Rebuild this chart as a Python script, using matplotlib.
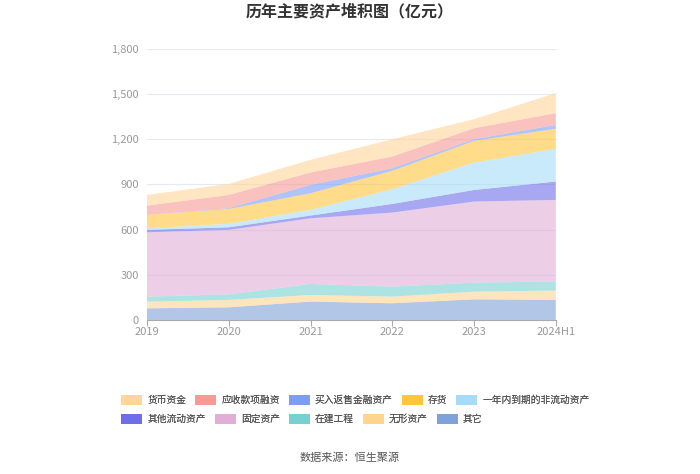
import numpy as np
import matplotlib
matplotlib.use("Agg")
import matplotlib.pyplot as plt
from matplotlib.patches import Patch

plt.rcParams['font.family'] = ['Noto Sans CJK SC', 'DejaVu Sans']

years = ['2019', '2020', '2021', '2022', '2023', '2024H1']

# stacked bottom -> top
qita = [77, 84, 122, 111, 137, 133]          # 其它
wuxing = [45, 49, 44, 44, 51, 62]            # 无形资产
zaijian = [33, 37, 73, 66, 60, 60]           # 在建工程
guding = [427, 428, 436, 492, 538, 542]      # 固定资产
qitaliudong = [16, 17, 18, 57, 77, 122]      # 其他流动资产
yinian = [11, 23, 38, 98, 182, 217]          # 一年内到期的非流动资产
cunhuo = [88, 99, 110, 122, 144, 133]        # 存货
maifan = [0, 5, 56, 17, 11, 26]              # 买入返售金融资产
yingshou = [62, 88, 82, 78, 73, 78]          # 应收款项融资
huobi = [71, 73, 84, 115, 60, 133]           # 货币资金

series = [
    ('其它', qita, '#7fa3d9'),
    ('无形资产', wuxing, '#ffd48f'),
    ('在建工程', zaijian, '#77d1d1'),
    ('固定资产', guding, '#e1aed8'),
    ('其他流动资产', qitaliudong, '#6e6eea'),
    ('一年内到期的非流动资产', yinian, '#a6dcf8'),
    ('存货', cunhuo, '#ffc53d'),
    ('买入返售金融资产', maifan, '#7d9df5'),
    ('应收款项融资', yingshou, '#f79a94'),
    ('货币资金', huobi, '#ffd59a'),
]

fig = plt.figure(figsize=(7, 4.74), dpi=100)
ax = fig.add_axes([0.21, 0.325, 0.584, 0.572])

x = np.arange(len(years))
ax.stackplot(x, *[s[1] for s in series], colors=[s[2] for s in series],
             alpha=0.6, linewidth=0)

ax.set_xlim(0, len(years) - 1)
ax.set_ylim(0, 1800)
ax.set_yticks(range(0, 1801, 300))
ax.set_yticklabels([f'{v:,}' for v in range(0, 1801, 300)])
ax.set_xticks(x)
ax.set_xticklabels(years)
ax.grid(axis='y', color='#e6e9f0', linewidth=0.8)
ax.set_axisbelow(True)
for s in ['top', 'right', 'left']:
    ax.spines[s].set_visible(False)
ax.spines['bottom'].set_color('#aaaaaa')
ax.tick_params(axis='y', length=0, labelsize=8, labelcolor='#999999', pad=6)
ax.tick_params(axis='x', length=4, color='#aaaaaa', labelsize=8,
               labelcolor='#999999', pad=1)

fig.text(0.5, 0.975, '历年主要资产堆积图（亿元）', ha='center', va='center',
         fontsize=11.5, fontweight='bold', color='#333333')

order = ['货币资金', '应收款项融资', '买入返售金融资产', '存货', '一年内到期的非流动资产',
         '其他流动资产', '固定资产', '在建工程', '无形资产', '其它']
cmap = {s[0]: s[2] for s in series}
rows = [order[:5], order[5:]]
for i, row in enumerate(rows):
    handles = [Patch(facecolor=cmap[n], edgecolor='none', label=n) for n in row]
    leg = fig.legend(handles=handles, loc='upper left', ncol=5,
                     bbox_to_anchor=(0.166, 0.177 - i * 0.04), frameon=False,
                     fontsize=7, handlelength=2.2, handleheight=1.2,
                     columnspacing=0.9, handletextpad=0.5, borderpad=0,
                     labelcolor='#555555')
    fig.add_artist(leg)

fig.text(0.5, 0.035, '数据来源：恒生聚源', ha='center', va='center',
         fontsize=8, color='#555555')

fig.savefig('out.png', dpi=100)
